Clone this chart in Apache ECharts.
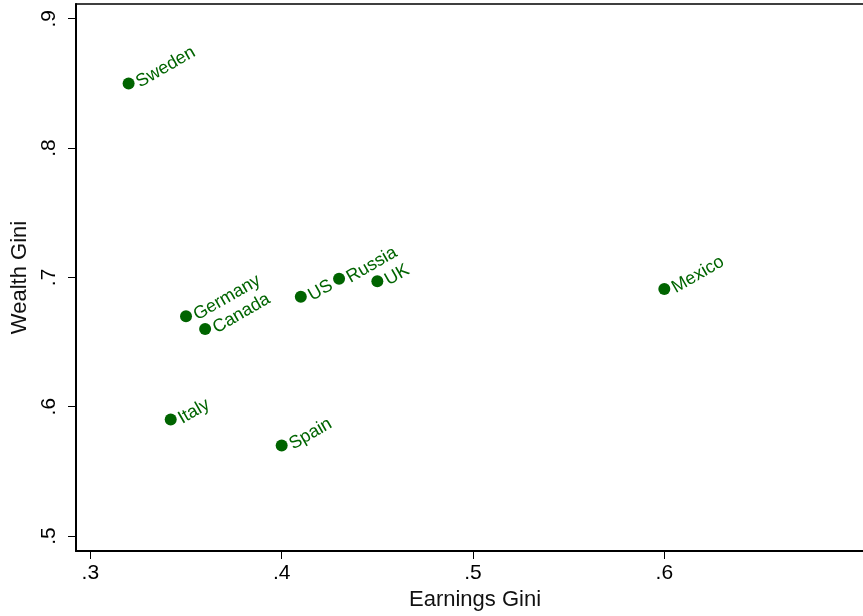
<!DOCTYPE html>
<html><head><meta charset="utf-8">
<script src="https://cdn.jsdelivr.net/npm/echarts@6/dist/echarts.min.js"></script>
<style>html,body{margin:0;padding:0;background:#fff}#c{width:863px;height:616px}</style>
</head><body><div id="c"></div>
<script>
const countries = ['Sweden','Germany','Canada','US','Russia','UK','Mexico','Italy','Spain'];
const earningsGini = [0.320, 0.350, 0.360, 0.410, 0.430, 0.450, 0.600, 0.342, 0.400];
const wealthGini   = [0.850, 0.670, 0.660, 0.685, 0.699, 0.697, 0.691, 0.590, 0.570];
const xTicks = [0.3, 0.4, 0.5, 0.6];
const yTicks = [0.5, 0.6, 0.7, 0.8, 0.9];

const green = '#006400';
const fmt = v => String(Math.round(v*10)/10).replace(/^0/, '');
const chart = echarts.init(document.getElementById('c'), null, {renderer:'canvas'});
chart.setOption({
  animation:false,
  backgroundColor:'#fff',
  textStyle:{fontFamily:'Liberation Sans, Arial, sans-serif'},
  grid:{left:76, top:4, right:-11, bottom:65, outerBoundsMode:'none', containLabel:false,
        show:true, borderColor:'#000', borderWidth:1.5, backgroundColor:'#fff'},
  xAxis:{
    type:'value', min:0.2925, max:0.7096,
    name:'Earnings Gini', nameLocation:'middle', nameGap:37,
    nameTextStyle:{fontSize:22, color:'#111'},
    axisLine:{show:true, onZero:false, lineStyle:{color:'#000', width:2}},
    axisTick:{show:true, length:8, customValues:xTicks, lineStyle:{color:'#000', width:1}},
    axisLabel:{customValues:xTicks, formatter:fmt, fontSize:21, color:'#000', margin:12},
    splitLine:{show:false}
  },
  yAxis:{
    type:'value', min:0.4884, max:0.9114,
    name:'Wealth Gini', nameLocation:'middle', nameGap:27,
    nameTextStyle:{fontSize:22, color:'#111'},
    axisLine:{show:true, onZero:false, lineStyle:{color:'#000', width:2}},
    axisTick:{show:true, length:8, customValues:yTicks, lineStyle:{color:'#000', width:1}},
    axisLabel:{customValues:yTicks, formatter:fmt, fontSize:21, color:'#000', rotate:90, margin:16},
    splitLine:{show:false}
  },
  series:[{
    type:'scatter',
    symbol:'circle', symbolSize:12,
    itemStyle:{color:green, opacity:1},
    data: countries.map((n,i)=>({name:n, value:[earningsGini[i], wealthGini[i]]})),
    label:{show:true, position:'right', distance:3, rotate:30, formatter:p=>p.name, color:green, fontSize:18}
  }]
});
</script></body></html>
